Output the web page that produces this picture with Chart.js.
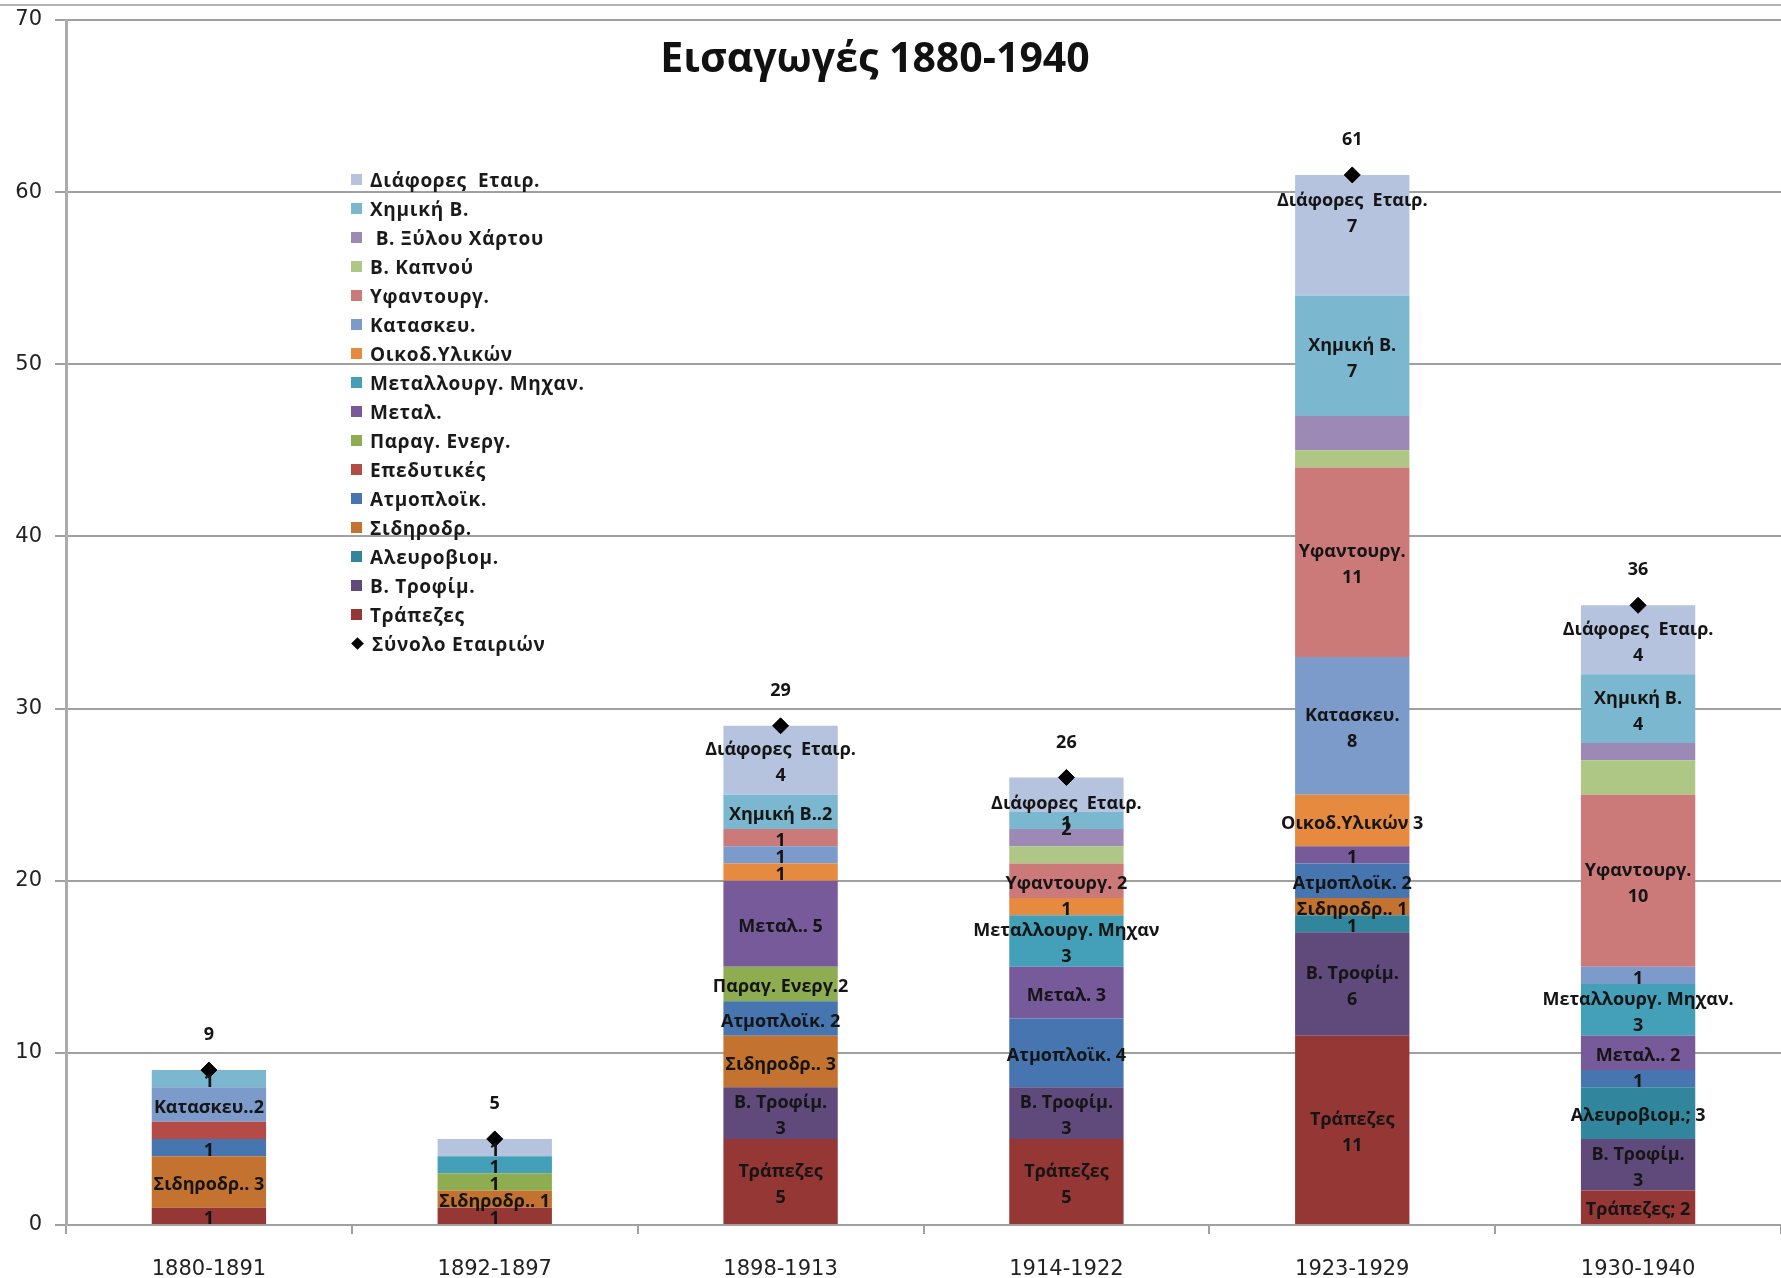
<!DOCTYPE html>
<html>
<head>
<meta charset="utf-8">
<script src="https://cdn.jsdelivr.net/npm/chart.js@4.4.1/dist/chart.umd.min.js"></script>
<style>
html,body{margin:0;padding:0;background:#fff;}
#wrap{position:relative;width:1781px;height:1278px;overflow:hidden;}
#topline{position:absolute;left:0;top:4px;width:1781px;height:2px;background:#b3b3b3;}
#title{position:absolute;left:0;width:1750px;top:28px;line-height:48px;text-align:center;font:bold 41px "Open Sans";color:#111;}
#legend{position:absolute;left:351px;top:165px;font:bold 19px "Open Sans";letter-spacing:0.7px;color:#1a1a1a;}
.li{height:29px;display:flex;align-items:center;white-space:pre;}
.sw{width:11px;height:11px;margin-right:8px;flex:none;}
.dia{width:9px;height:9px;background:#000;transform:rotate(45deg);margin:0 10px 0 2px;flex:none;}
</style>
</head>
<body>
<div id="wrap">
  <canvas id="c" width="1781" height="1278"></canvas>
  <div id="topline"></div>
  <div id="title">Εισαγωγές 1880-1940</div>
  <div id="legend"></div>
</div>
<script>
const periods = ['1880-1891','1892-1897','1898-1913','1914-1922','1923-1929','1930-1940'];

// series, bottom of the stack first
const seriesNames = ['Τράπεζες','Β. Τροφίμ.','Αλευροβιομ.','Σιδηροδρ.','Ατμοπλοϊκ.','Επεδυτικές','Παραγ. Ενεργ.','Μεταλ.','Μεταλλουργ. Μηχαν.','Οικοδ.Υλικών','Κατασκευ.','Υφαντουργ.','Β. Καπνού',' Β. Ξύλου Χάρτου','Χημική Β.','Διάφορες  Εταιρ.'];
const colors = ['#953735','#604A7B','#31859C','#C3732F','#4675B0','#B44B47','#8EAD51','#765A9A','#44A0B8','#E58A3F','#7C9ACA','#CB7A79','#AEC785','#9D89B5','#7BB8CF','#B5C3DF'];

const trapezes   = [1,1,5,5,11,2];
const trofima    = [0,0,3,3,6,3];
const alevro     = [0,0,0,0,1,3];
const sidirodr   = [3,1,3,0,1,0];
const atmoploik  = [1,0,2,4,2,1];
const epedytikes = [1,0,0,0,0,0];
const paragEnerg = [0,1,2,0,0,0];
const metal      = [0,0,5,3,1,2];
const metallourg = [0,1,0,3,0,3];
const oikod      = [0,0,1,1,3,0];
const kataskev   = [2,0,1,0,8,1];
const yfantourg  = [0,0,1,2,11,10];
const kapnou     = [0,0,0,1,1,2];
const xylou      = [0,0,0,1,2,1];
const ximiki     = [1,0,2,1,7,4];
const diafores   = [0,1,4,2,7,4];
const totals     = [9,5,29,26,61,36];

// data label text on each segment ('' = none)
const trapezesLbl = ['1','1','Τράπεζες\n5','Τράπεζες\n5','Τράπεζες\n11','Τράπεζες; 2'];
const trofimaLbl  = ['','','Β. Τροφίμ.\n3','Β. Τροφίμ.\n3','Β. Τροφίμ.\n6','Β. Τροφίμ.\n3'];
const alevroLbl   = ['','','','','1','Αλευροβιομ.; 3'];
const sidirodrLbl = ['Σιδηροδρ.. 3','Σιδηροδρ.. 1','Σιδηροδρ.. 3','','Σιδηροδρ.. 1',''];
const atmoLbl     = ['1','','Ατμοπλοϊκ. 2','Ατμοπλοϊκ. 4','Ατμοπλοϊκ. 2','1'];
const epedLbl     = ['','','','','',''];
const paragLbl    = ['','1','Παραγ. Ενεργ.2','','',''];
const metalLbl    = ['','','Μεταλ.. 5','Μεταλ. 3','1','Μεταλ.. 2'];
const metallLbl   = ['','1','','Μεταλλουργ. Μηχαν\n3','','Μεταλλουργ. Μηχαν.\n3'];
const oikodLbl    = ['','','1','1','Οικοδ.Υλικών 3',''];
const kataskevLbl = ['Κατασκευ..2','','1','','Κατασκευ.\n8','1'];
const yfantLbl    = ['','','1','Υφαντουργ. 2','Υφαντουργ.\n11','Υφαντουργ.\n10'];
const kapnouLbl   = ['','','','','',''];
const xylouLbl    = ['','','','','',''];
const ximikiLbl   = ['1','','Χημική Β..2','1','Χημική Β.\n7','Χημική Β.\n4'];
const diafLbl     = ['','1','Διάφορες  Εταιρ.\n4','Διάφορες  Εταιρ.\n2','Διάφορες  Εταιρ.\n7','Διάφορες  Εταιρ.\n4'];

const seriesData = [trapezes,trofima,alevro,sidirodr,atmoploik,epedytikes,paragEnerg,metal,metallourg,oikod,kataskev,yfantourg,kapnou,xylou,ximiki,diafores];
const seriesLbls = [trapezesLbl,trofimaLbl,alevroLbl,sidirodrLbl,atmoLbl,epedLbl,paragLbl,metalLbl,metallLbl,oikodLbl,kataskevLbl,yfantLbl,kapnouLbl,xylouLbl,ximikiLbl,diafLbl];

// labels that were dragged off-centre in the original (dataset:bar -> px)
const nudge = {'15:3':19,'15:4':-24};

const labelPlugin = {
  id:'segLabels',
  afterDatasetsDraw(chart){
    const ctx = chart.ctx;
    ctx.save();
    ctx.font = 'bold 18px "Open Sans"';
    ctx.fillStyle = '#151515';
    ctx.textAlign = 'center';
    ctx.textBaseline = 'middle';
    chart.data.datasets.forEach((ds,i)=>{
      const meta = chart.getDatasetMeta(i);
      if(ds.segLabels){
        meta.data.forEach((el,j)=>{
          const t = ds.segLabels[j];
          if(!t) return;
          const lines = t.split('\n');
          const cy = (el.y+el.base)/2 + 3 + (nudge[i+':'+j]||0);
          lines.forEach((ln,k)=>ctx.fillText(ln, el.x, cy+(k-(lines.length-1)/2)*26));
        });
      }
      if(ds.type==='line'){
        meta.data.forEach((el,j)=>ctx.fillText(String(ds.data[j]), el.x, el.y-35));
      }
    });
    ctx.restore();
  }
};

const datasets = seriesNames.map((n,i)=>({
  label:n, data:seriesData[i], segLabels:seriesLbls[i],
  backgroundColor:colors[i], borderWidth:0, order:1, stack:'s'
}));
datasets.push({
  type:'line', label:'Σύνολο Εταιριών', data:totals, stack:'tot', order:0,
  showLine:false, pointStyle:'rectRot', pointRadius:8, pointHoverRadius:8,
  pointBackgroundColor:'#000', pointBorderColor:'#000'
});

new Chart(document.getElementById('c'),{
  type:'bar',
  data:{labels:periods,datasets},
  plugins:[labelPlugin],
  options:{
    responsive:false, animation:false, devicePixelRatio:1,
    layout:{autoPadding:false,padding:{top:20,right:0,left:0,bottom:0}},
    plugins:{legend:{display:false},tooltip:{enabled:false},title:{display:false}},
    datasets:{bar:{barPercentage:0.4,categoryPercentage:1}},
    scales:{
      x:{stacked:true,
        grid:{offset:true,drawOnChartArea:false,drawTicks:true,tickLength:9,color:'#a0a0a0',lineWidth:2},
        border:{color:'#a0a0a0',width:2},
        ticks:{font:{family:'DejaVu Sans',size:21},color:'#222',padding:23},
        afterFit(s){s.height=53;s.paddingLeft=0;s.paddingRight=0;}
      },
      y:{stacked:true,min:0,max:70,
        grid:{color:'#a0a0a0',lineWidth:2,tickLength:11},
        border:{color:'#ababab',width:3},
        ticks:{stepSize:10,font:{family:'DejaVu Sans',size:21},color:'#222',padding:13},
        afterFit(s){s.width=66;s.paddingTop=0;s.paddingBottom=0;}
      }
    }
  }
});

// legend inside the plot, top item = top of the stack
const lg = document.getElementById('legend');
seriesNames.map((n,i)=>({n,c:colors[i]})).reverse().forEach(it=>{
  lg.innerHTML += `<div class="li"><span class="sw" style="background:${it.c}"></span>${it.n}</div>`;
});
lg.innerHTML += `<div class="li"><span class="dia"></span>Σύνολο Εταιριών</div>`;
</script>
</body>
</html>
